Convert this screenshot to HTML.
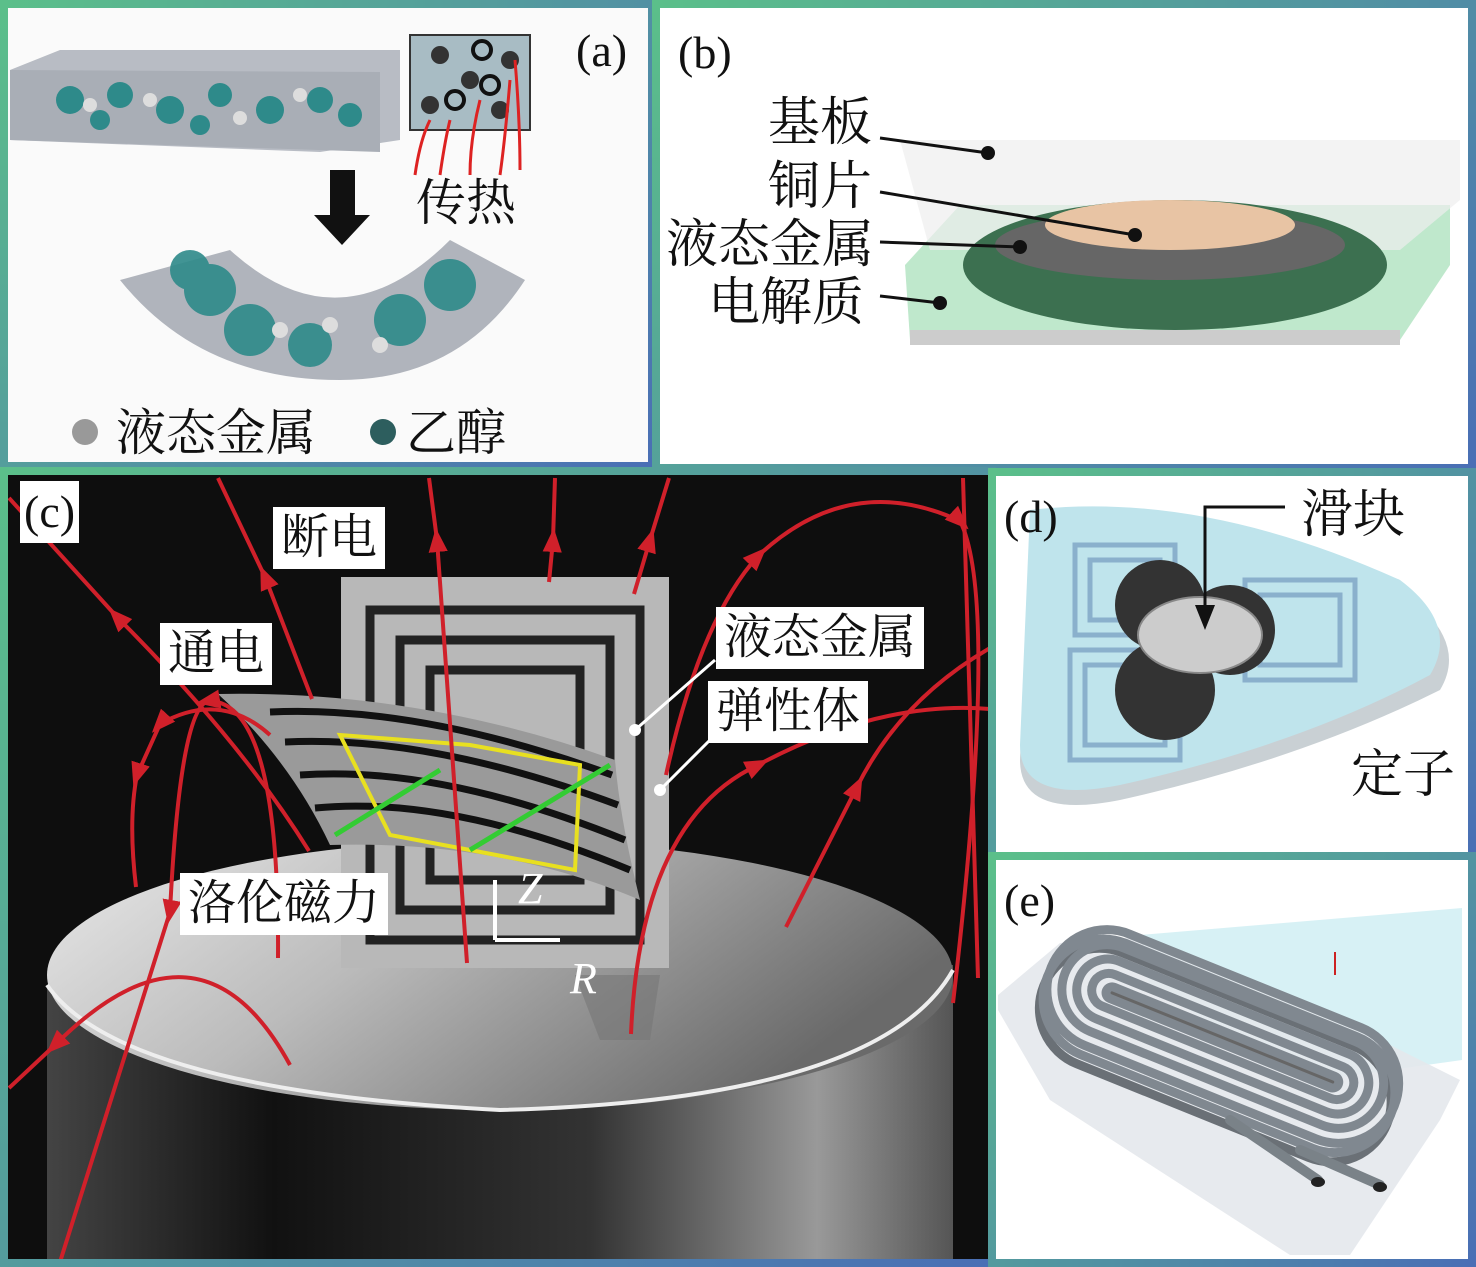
<!DOCTYPE html><html><head><meta charset="utf-8"><style>
body{margin:0;width:1476px;height:1267px;background:#fff;overflow:hidden;position:relative;font-family:"Liberation Serif","Noto Serif CJK SC",serif}
.p{position:absolute;box-sizing:border-box;border:8px solid;border-image:linear-gradient(135deg,#5bbf8a,#4a6fb5) 1;overflow:hidden}
.t{position:absolute;color:#111;white-space:nowrap;line-height:1}
.lb{position:absolute;background:#fff;color:#111;padding:0 8px;font-size:48px;line-height:62px}
svg{position:absolute}
</style></head><body>
<div class="p" style="left:0;top:0;width:656px;height:470px;background:#fafafa">
<svg width="1476" height="1267" style="left:-8px;top:-8px">
<polygon points="10,70 60,50 400,50 400,140 320,152 10,140" fill="#b8bcc4"/>
<polygon points="10,70 380,72 380,152 10,140" fill="#a9aeb6"/>
<g fill="#2e8a8a"><circle cx="70" cy="100" r="14"/><circle cx="120" cy="95" r="13"/><circle cx="170" cy="110" r="14"/><circle cx="220" cy="95" r="12"/><circle cx="270" cy="110" r="14"/><circle cx="320" cy="100" r="13"/><circle cx="350" cy="115" r="12"/><circle cx="100" cy="120" r="10"/><circle cx="200" cy="125" r="10"/></g>
<g fill="#ddd"><circle cx="90" cy="105" r="7"/><circle cx="150" cy="100" r="7"/><circle cx="240" cy="118" r="7"/><circle cx="300" cy="95" r="7"/></g>
<rect x="410" y="35" width="120" height="95" fill="#a8bcc4" stroke="#333" stroke-width="2"/>
<g fill="#333"><circle cx="440" cy="55" r="9"/><circle cx="470" cy="80" r="9"/><circle cx="510" cy="60" r="9"/><circle cx="430" cy="105" r="9"/><circle cx="500" cy="110" r="9"/></g>
<g fill="none" stroke="#111" stroke-width="4"><circle cx="482" cy="50" r="9"/><circle cx="455" cy="100" r="9"/><circle cx="490" cy="85" r="9"/></g>
<g stroke="#d22" stroke-width="3" fill="none"><path d="M415 175 Q420 140 430 120"/><path d="M440 175 Q445 140 450 120"/><path d="M470 175 Q470 140 480 100"/><path d="M500 175 Q505 140 510 80"/><path d="M520 170 Q520 120 515 60"/></g>
<polygon points="330,170 355,170 355,215 370,215 342,245 314,215 330,215" fill="#111"/>
<path d="M120 280 L230 250 Q340 350 450 240 L525 280 Q460 380 340 380 Q200 380 120 280Z" fill="#b0b4bc"/>
<g fill="#2e8a8a" opacity=".9"><circle cx="210" cy="290" r="26"/><circle cx="250" cy="330" r="26"/><circle cx="310" cy="345" r="22"/><circle cx="400" cy="320" r="26"/><circle cx="450" cy="285" r="26"/><circle cx="190" cy="270" r="20"/></g>
<g fill="#ddd"><circle cx="280" cy="330" r="8"/><circle cx="330" cy="325" r="8"/><circle cx="380" cy="345" r="8"/></g>
<circle cx="85" cy="432" r="13" fill="#999"/><circle cx="383" cy="432" r="13" fill="#2d5e5e"/>
</svg>
<div class="t" style="left:568px;top:20px;font-size:46px">(a)</div>
<div class="t" style="left:408px;top:170px;font-size:50px">传热</div>
<div class="t" style="left:108px;top:400px;font-size:50px">液态金属</div>
<div class="t" style="left:398px;top:400px;font-size:50px">乙醇</div>
</div>
<div class="p" style="left:652px;top:0;width:824px;height:472px;background:#fff">
<svg width="1476" height="1267" style="left:-660px;top:-8px">
<polygon points="905,265 960,205 1450,205 1450,265 1400,340 910,340" fill="#bfe8cc"/>
<polygon points="910,330 1400,330 1400,345 910,345" fill="#ccc"/>
<polygon points="900,140 1460,140 1460,200 1400,250 930,250" fill="#eee" opacity=".7"/>
<ellipse cx="1175" cy="265" rx="212" ry="65" fill="#3c7050"/>
<ellipse cx="1170" cy="245" rx="175" ry="35" fill="#666"/>
<ellipse cx="1170" cy="225" rx="125" ry="25" fill="#e8c4a4"/>
<g stroke="#111" stroke-width="3"><line x1="880" y1="138" x2="988" y2="153"/><line x1="880" y1="192" x2="1135" y2="235"/><line x1="880" y1="242" x2="1020" y2="247"/><line x1="880" y1="296" x2="940" y2="303"/></g>
<g fill="#111"><circle cx="988" cy="153" r="7"/><circle cx="1135" cy="235" r="7"/><circle cx="1020" cy="247" r="7"/><circle cx="940" cy="303" r="7"/></g>
</svg>
<div class="t" style="left:18px;top:22px;font-size:46px">(b)</div>
<div class="t" style="left:108px;top:90px;font-size:52px">基板</div>
<div class="t" style="left:108px;top:154px;font-size:52px">铜片</div>
<div class="t" style="left:6px;top:212px;font-size:52px">液态金属</div>
<div class="t" style="left:48px;top:270px;font-size:52px">电解质</div>
</div>
<div class="p" style="left:0;top:467px;width:996px;height:800px;background:#0e0e0e">
<svg width="1476" height="1267" style="left:-8px;top:-475px">
<defs>
<marker id="a" viewBox="0 0 10 10" refX="5" refY="5" markerWidth="6" markerHeight="6" orient="auto"><path d="M0 1 L10 5 L0 9Z" fill="#d0202a"/></marker>
<linearGradient id="top" x1="0" y1="0" x2="1" y2="0.4"><stop offset="0" stop-color="#eaeaea"/><stop offset=".45" stop-color="#bbb"/><stop offset="1" stop-color="#6a6a6a"/></linearGradient>
<linearGradient id="side" x1="0" y1="0" x2="1" y2="0"><stop offset="0" stop-color="#444"/><stop offset=".25" stop-color="#111"/><stop offset=".6" stop-color="#333"/><stop offset=".85" stop-color="#999"/><stop offset="1" stop-color="#555"/></linearGradient>
</defs>
<path d="M47 985 L47 1267 L953 1267 L953 965Z" fill="url(#side)"/>
<ellipse cx="500" cy="975" rx="453" ry="135" fill="url(#top)"/>
<path d="M47 985 Q120 1090 500 1110 Q880 1100 953 970" fill="none" stroke="#eee" stroke-width="4"/>
<rect x="341" y="577" width="328" height="391" fill="#b8b8b8"/>
<g fill="none" stroke="#222" stroke-width="9"><rect x="370" y="610" width="270" height="330"/><rect x="400" y="640" width="210" height="270"/><rect x="430" y="670" width="150" height="210"/></g>
<path d="M575 975 L660 975 L650 1040 L600 1040Z" fill="#777" opacity=".6"/>
<path d="M218 694 Q420 690 615 760 Q620 820 640 900 Q500 840 330 845 Q290 760 218 694Z" fill="#9a9a9a"/>
<g fill="none" stroke="#111" stroke-width="7"><path d="M270 712 Q420 705 612 775"/><path d="M285 742 Q430 735 618 805"/><path d="M300 775 Q440 765 625 840"/><path d="M315 808 Q450 795 630 870"/></g>
<path d="M340 735 L470 745 L580 765 L575 870 L470 850 L390 835 Z" fill="none" stroke="#e8e020" stroke-width="4"/>
<line x1="335" y1="835" x2="440" y2="770" stroke="#3c3" stroke-width="5"/><line x1="470" y1="850" x2="610" y2="765" stroke="#3c3" stroke-width="5"/>
<g fill="none" stroke="#d0202a" stroke-width="4" marker-mid="url(#a)">
<path d="M290 1065 Q200 900 55 1045 L9 1088"/>
<path d="M278 958 Q280 700 208 701 Q180 710 170 912 L60 1262"/>
<path d="M309 851 Q240 740 117 617 L9 498"/>
<path d="M312 699 L265 577 L218 478"/>
<path d="M270 735 Q220 690 160 724 L137 775 Q128 820 136 887"/>
<path d="M467 963 L437 540 L429 478"/>
<path d="M549 582 L553 540 L555 478"/>
<path d="M634 594 L650 540 L669 478"/>
<path d="M631 1034 Q640 820 758 765 Q880 700 990 709"/>
<path d="M786 927 L857 787 Q900 700 990 648"/>
<path d="M666 775 Q700 620 758 556 Q850 470 960 521 Q1000 600 953 1003"/>
<path d="M963 478 L978 978"/>
</g>
<line x1="495" y1="940" x2="495" y2="880" stroke="#fff" stroke-width="4"/><line x1="495" y1="940" x2="560" y2="940" stroke="#fff" stroke-width="4"/>
<g stroke="#fff" stroke-width="3"><line x1="635" y1="730" x2="715" y2="660"/><line x1="660" y1="790" x2="715" y2="735"/></g>
<circle cx="635" cy="730" r="6" fill="#fff"/><circle cx="660" cy="790" r="6" fill="#fff"/>
</svg>
<div class="lb" style="left:12px;top:6px;font-size:46px;padding:0 4px">(c)</div>
<div class="lb" style="left:265px;top:32px">断电</div>
<div class="lb" style="left:152px;top:148px">通电</div>
<div class="lb" style="left:708px;top:132px">液态金属</div>
<div class="lb" style="left:700px;top:206px">弹性体</div>
<div class="lb" style="left:172px;top:398px">洛伦磁力</div>
<div class="t" style="left:510px;top:392px;font-size:44px;color:#fff;font-style:italic">Z</div>
<div class="t" style="left:562px;top:482px;font-size:44px;color:#fff;font-style:italic">R</div>
</div>
<div class="p" style="left:988px;top:468px;width:488px;height:392px;background:#fff">
<svg width="1476" height="1267" style="left:-996px;top:-476px">
<path d="M1030 520 Q1200 500 1400 590 Q1470 640 1440 690 Q1300 760 1120 800 Q1020 820 1020 760 Z" fill="#c9d0d4"/>
<path d="M1030 510 Q1200 490 1400 580 Q1460 625 1430 675 Q1300 745 1120 785 Q1020 805 1020 745 Z" fill="#bfe4ec"/>
<g fill="none" stroke="#8ab0cc" stroke-width="5"><rect x="1075" y="545" width="100" height="90"/><rect x="1090" y="560" width="70" height="60"/><rect x="1245" y="580" width="110" height="100"/><rect x="1260" y="595" width="80" height="70"/><rect x="1070" y="650" width="110" height="110"/><rect x="1085" y="665" width="80" height="80"/></g>
<circle cx="1160" cy="605" r="45" fill="#333"/><circle cx="1230" cy="630" r="45" fill="#333"/><circle cx="1165" cy="690" r="50" fill="#333"/>
<ellipse cx="1200" cy="635" rx="62" ry="38" fill="#ccc" stroke="#888" stroke-width="2"/>
<path d="M1285 507 L1205 507 L1205 610" fill="none" stroke="#111" stroke-width="3"/>
<polygon points="1195,605 1215,605 1205,630" fill="#111"/>
</svg>
<div class="t" style="left:8px;top:18px;font-size:46px">(d)</div>
<div class="t" style="left:305px;top:14px;font-size:52px">滑块</div>
<div class="t" style="left:355px;top:274px;font-size:52px">定子</div>
</div>
<div class="p" style="left:988px;top:852px;width:488px;height:415px;background:#fff">
<svg width="1476" height="1267" style="left:-996px;top:-860px">
<polygon points="1140,935 1462,908 1462,1060 1320,1080 1150,990" fill="#cdeef2" opacity=".8"/>
<polygon points="998,995 1060,943 1140,937 1300,1000 1460,1080 1440,1120 1350,1255 1290,1255 1050,1100 998,1010" fill="#e4e8ec" opacity=".9"/>
<g transform="rotate(22 1220 1030)" fill="none" stroke="#808890" stroke-width="9">
<rect x="1040" y="995" width="370" height="120" rx="60" stroke="#6a7076"/>
<rect x="1040" y="985" width="370" height="120" rx="60"/>
<rect x="1040" y="975" width="370" height="120" rx="60"/>
<rect x="1055" y="990" width="340" height="90" rx="45"/>
<rect x="1070" y="1004" width="310" height="62" rx="31"/>
<rect x="1085" y="1018" width="280" height="34" rx="17"/>
<rect x="1100" y="1030" width="250" height="12" rx="6" fill="#666"/>
</g>
<g stroke="#7a8288" stroke-width="10" stroke-linecap="round"><line x1="1230" y1="1120" x2="1318" y2="1180"/><line x1="1300" y1="1150" x2="1380" y2="1185"/></g>
<ellipse cx="1318" cy="1182" rx="7" ry="5" fill="#222"/><ellipse cx="1380" cy="1187" rx="7" ry="5" fill="#222"/>
<line x1="1335" y1="975" x2="1335" y2="952" stroke="#c22" stroke-width="2"/>
</svg>
<div class="t" style="left:8px;top:18px;font-size:46px">(e)</div>
</div>
</body></html>
